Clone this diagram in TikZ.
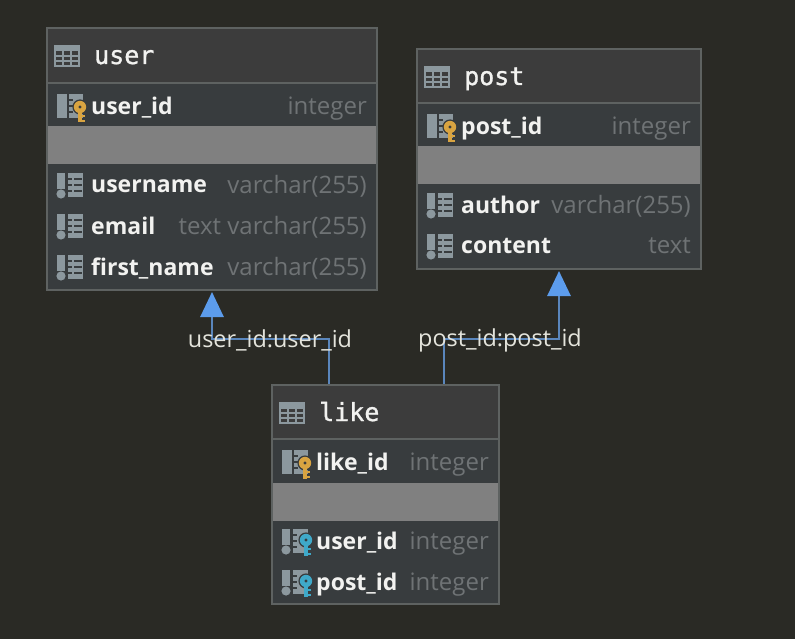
\documentclass[tikz,border=0pt]{standalone}
\usepackage{fontspec}
\setmainfont{Open Sans}
\newfontfamily\titlefont[RawFeature={embolden=1.2}]{DejaVu Sans Mono}
\usetikzlibrary{arrows.meta}
\definecolor{bgc}{HTML}{2A2A25}
\definecolor{headc}{HTML}{3C3C3C}
\definecolor{rowc}{HTML}{383C3E}
\definecolor{frameC}{HTML}{5E6261}
\definecolor{sepC}{HTML}{808080}
\definecolor{typeC}{HTML}{6F7375}
\definecolor{iconC}{HTML}{8C989E}
\definecolor{keyY}{HTML}{D9A441}
\definecolor{keyB}{HTML}{3FA9C9}
\definecolor{lineC}{HTML}{5A86BC}
\definecolor{tipC}{HTML}{5C9CEC}
\definecolor{labC}{HTML}{E4E4DC}
\definecolor{nameC}{HTML}{F2F2F0}
\tikzset{
  x=1pt,y=-1pt,
  tablebox/.style={draw=frameC,line width=2pt,fill=rowc,minimum width=#1,inner sep=0pt,outer sep=0pt},
  fieldname/.style={anchor=west,inner sep=0pt,text=nameC,font=\fontsize{23}{23}\selectfont\bfseries},
  fieldtype/.style={anchor=east,inner sep=0pt,text=typeC,font=\fontsize{24}{24}\selectfont},
  titletext/.style={anchor=base west,inner sep=0pt,text=nameC,font=\titlefont\fontsize{25}{25}\selectfont},
  connector/.style={draw=lineC,line width=2.8pt},
  relarrow/.style={connector,-{Triangle[length=25pt,width=23pt,color=tipC]}},
  rellabel/.style={inner sep=0pt,text=labC,font=\fontsize{23.4}{23.4}\selectfont},
}
% #1 left, #2 top, #3 right, #4 bottom, #5 header bottom, #6 gray top, #7 gray bottom, #8 name, #9 title
\newcommand{\tablebody}[9]{%
  \node[tablebox=#3-#1,minimum height=#4-#2,anchor=north west] (#8) at (#1,#2) {};
  \fill[headc] (#1+1,#2+1) rectangle (#3-1,#5);
  \draw[frameC,line width=1.6pt] (#1,#5) -- (#3,#5);
  \fill[sepC] (#1+1,#6) rectangle (#3-1,#7);
  \tableicon{#1+6.5}{#2+17}
  \node[titletext] (#8title) at (#1+47,#2+36) {#9};
}
\newcommand{\tableicon}[2]{%
  \fill[iconC] (#1,#2) rectangle ++(26.5,22);
  \foreach \yy in {6.5,12,17}{\fill[headc] (#1+2,#2+\yy) rectangle ++(6.8,3.2);
    \fill[headc] (#1+10,#2+\yy) rectangle ++(6.8,3.2);
    \fill[headc] (#1+18,#2+\yy) rectangle ++(6.8,3.2);}
}
\newcommand{\colicon}[2]{% x, y centre
  \fill[iconC] (#1+1,#2-12) rectangle ++(8,16);
  \fill[iconC] (#1+5,#2+9) circle (4.6);
  \fill[iconC] (#1+12,#2-12) rectangle ++(15,24);
  \foreach \yy in {-7,-1,5}{\fill[rowc] (#1+12,#2+\yy) rectangle ++(4,2.4);
    \fill[rowc] (#1+18,#2+\yy) rectangle ++(7.5,2.4);}
}
\newcommand{\pkicon}[2]{% x, y centre
  \fill[iconC] (#1+1,#2-12) rectangle ++(10,24);
  \fill[iconC] (#1+13,#2-12) rectangle ++(14,24);
  \foreach \yy in {-7,-1,5}{\fill[rowc] (#1+13,#2+\yy) rectangle ++(4,2.4);}
  \keyicon{#1+24}{#2+1}{keyY}
}
\newcommand{\fkicon}[2]{% x, y centre
  \fill[iconC] (#1+1,#2-12) rectangle ++(8,16);
  \fill[iconC] (#1+5,#2+9) circle (4.6);
  \fill[iconC] (#1+12,#2-12) rectangle ++(15,24);
  \foreach \yy in {-7,-1,5}{\fill[rowc] (#1+12,#2+\yy) rectangle ++(4,2.4);}
  \keyicon{#1+25}{#2-1}{keyB}
}
\newcommand{\keyicon}[3]{%
  \fill[rowc] (#1,#2) circle (7.6);
  \fill[#3,even odd rule] (#1,#2) circle (6.2) (#1,#2) circle (1.9);
  \fill[#3] (#1-1.9,#2+4) rectangle ++(3.8,11.5);
  \fill[#3] (#1+1,#2+8) rectangle ++(3.8,2.4);
  \fill[#3] (#1+1,#2+13) rectangle ++(3.8,2.4);
}
% #1 icon, #2 left, #3 right, #4 y, #5 name id, #6 text, #7 type
\newcommand{\fieldrow}[7]{%
  #1{#2+9}{#4}
  \node[fieldname] (#5) at (#2+44,#4+3) {\strut #6};
  \node[fieldtype] (#5type) at (#3-10,#4+3) {\strut #7};
}
\begin{document}
\begin{tikzpicture}
\useasboundingbox (0,0) rectangle (795,639);
\fill[bgc] (0,0) rectangle (795,639);

% user
\tablebody{47}{28}{377}{290}{83}{126}{164}{user}{user}
\fieldrow{\pkicon}{47}{377}{106}{uid}{user\_id}{integer}
\fieldrow{\colicon}{47}{377}{185}{uname}{username}{varchar(255)}
\fieldrow{\colicon}{47}{377}{226}{uemail}{email}{text varchar(255)}
\fieldrow{\colicon}{47}{377}{267}{ufirst}{first\_name}{varchar(255)}

% post
\tablebody{417}{49}{701}{269}{103}{146}{184}{post}{post}
\fieldrow{\pkicon}{417}{701}{126}{pid}{post\_id}{integer}
\fieldrow{\colicon}{417}{701}{205}{pauthor}{author}{varchar(255)}
\fieldrow{\colicon}{417}{701}{246}{pcontent}{content}{text}

% like
\tablebody{272}{385}{499}{604}{439}{483}{521}{like}{like}
\fieldrow{\pkicon}{272}{499}{462}{lid}{like\_id}{integer}
\fieldrow{\fkicon}{272}{499}{541}{luser}{user\_id}{integer}
\fieldrow{\fkicon}{272}{499}{582}{lpost}{post\_id}{integer}

% connectors
\coordinate (ul) at (329,384);
\coordinate (uu) at (212,292);
\coordinate (pl) at (444,384);
\coordinate (pp) at (559,271);
\draw[relarrow] (ul) -- (329,339) -- (212,339) -- (uu);
\draw[relarrow] (pl) -- (444,339) -- (559,339) -- (pp);
\node[rellabel] (ulabel) at (270,340) {user\_id:user\_id};
\node[rellabel] (plabel) at (500,340) {post\_id:post\_id};
\end{tikzpicture}
\end{document}
